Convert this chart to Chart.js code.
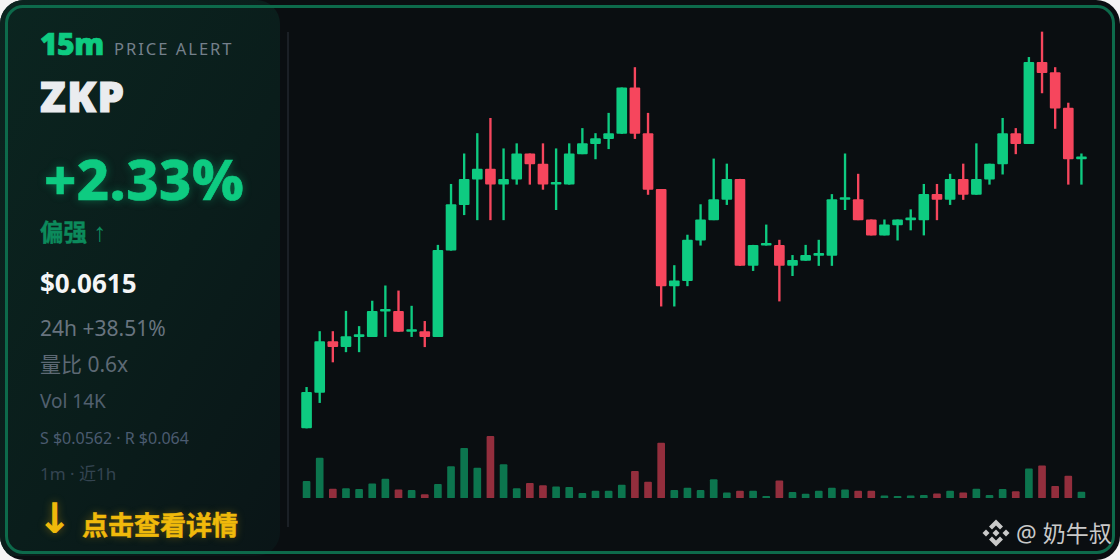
<!DOCTYPE html>
<html>
<head>
<meta charset="utf-8">
<script src="https://cdn.jsdelivr.net/npm/chart.js@4"></script>
<style>
	html, body { margin: 0; padding: 0; background: #f4f4f4; }
	#card { position: relative; width: 1120px; height: 560px; overflow: hidden; background: #0a0e11; border-radius: 24px; font-family: "Noto Sans", "Noto Sans CJK SC", sans-serif; }
	#panel { position: absolute; left: 0; top: 0; width: 280px; height: 556px; border-radius: 0 24px 24px 0; background: linear-gradient(120deg, #0b2520 0%, #0a1d1b 55%, #0a1517 100%); }
	#frame { position: absolute; left: 5px; top: 5px; width: 1104px; height: 543px; border: 3px solid #0d6a4b; border-radius: 18px; }
	#divider { position: absolute; left: 287px; top: 32px; width: 2px; height: 495px; background: #1b2026; }
	#chartbox { position: absolute; left: 300px; top: 20px; width: 788px; height: 478px; }
	.t { position: absolute; left: 40px; line-height: 1; white-space: nowrap; }
	#tf { top: 29px; font-size: 30px; font-weight: 900; color: #0ecb81; letter-spacing: -0.5px; -webkit-text-stroke: 0.7px #0ecb81; }
	#tag { top: 41px; left: 114px; font-size: 16.5px; color: #75808b; letter-spacing: 2px; }
	#sym { top: 75px; font-size: 42px; font-weight: 900; color: #eaecef; letter-spacing: 1.5px; -webkit-text-stroke: 1.2px #eaecef; }
	#pct { top: 150px; left: 44px; font-size: 56px; font-weight: 800; color: #0ecb81; letter-spacing: 0.5px; -webkit-text-stroke: 0.6px #0ecb81; text-shadow: 0 0 10px rgba(14,203,129,.4); }
	#bias { top: 219px; font-size: 23.5px; font-weight: 700; color: #0c8a5c; -webkit-text-stroke: 0.4px #0c8a5c; }
	#bias span { font-family: "Liberation Sans"; font-size: 26px; -webkit-text-stroke: 0; }
	#price { top: 270px; font-size: 26px; font-weight: 700; color: #f4f5f6; }
	#chg { top: 318px; font-size: 21px; color: #68747f; }
	#ratio { top: 354px; font-size: 21px; color: #5d6974; }
	#vol { top: 392px; font-size: 19px; color: #52606f; }
	#levels { top: 430px; font-size: 16px; color: #4b5b70; }
	#range { top: 465px; font-size: 17px; color: #344451; }
	#cta { top: 512px; left: 82px; font-size: 26px; font-weight: 700; color: #f0b90b; -webkit-text-stroke: 0.5px #f0b90b; text-shadow: 0 0 8px rgba(240,185,11,.35); }
	#arrow { top: 498px; left: 37px; font-family: "DejaVu Sans"; font-size: 42px; font-weight: 700; color: #f0b90b; text-shadow: 0 0 8px rgba(240,185,11,.35); }
	#mark { position: absolute; left: 982px; top: 519px; display: flex; align-items: center; font-size: 23px; color: #c9c9c9; line-height: 28px; white-space: nowrap; }
	#mark svg { margin-right: 6px; }
</style>
</head>
<body>
<div id="card">
	<div id="panel"></div>
	<div id="frame"></div>
	<div id="divider"></div>
	<div class="t" id="tf">15m</div>
	<div class="t" id="tag">PRICE ALERT</div>
	<div class="t" id="sym">ZKP</div>
	<div class="t" id="pct">+2.33%</div>
	<div class="t" id="bias">偏强 <span>↑</span></div>
	<div class="t" id="price">$0.0615</div>
	<div class="t" id="chg">24h +38.51%</div>
	<div class="t" id="ratio">量比 0.6x</div>
	<div class="t" id="vol">Vol 14K</div>
	<div class="t" id="levels">S $0.0562 · R $0.064</div>
	<div class="t" id="range">1m · 近1h</div>
	<div class="t" id="arrow">↓</div>
	<div class="t" id="cta">点击查看详情</div>
	<div id="chartbox"><canvas id="kline"></canvas></div>
	<div id="mark">
		<svg width="28" height="28" viewBox="0 0 28 28" fill="#c9c9c9">
			<path d="M14 0.5l7 7-3 3-4-4-4 4-3-3z"/>
			<path d="M14 27.5l7-7-3-3-4 4-4-4-3 3z"/>
			<path d="M4 10.5L7.5 14 4 17.5 0.5 14z"/>
			<path d="M24 10.5L27.5 14 24 17.5 20.5 14z"/>
			<path d="M14 10.5L17.5 14 14 17.5 10.5 14z"/>
		</svg>
		<span>@ 奶牛叔</span>
	</div>
</div>
<script>
const opens = [0.0562,0.0569,0.0579,0.0578,0.0580,0.0580,0.0585,0.0585,0.0581,0.0581,
	0.0580,0.0597,0.0606,0.0611,0.0613,0.0610,0.0611,0.0616,0.0614,0.0610,
	0.0610,0.0616,0.0618,0.0619,0.0620,0.0629,0.0620,0.0609,0.0590,0.0591,
	0.0599,0.0603,0.0607,0.0611,0.0594,0.0598,0.0598,0.0594,0.0595,0.0596,
	0.0596,0.0607,0.0607,0.0603,0.0600,0.0602,0.0603,0.0603,0.0608,0.0607,
	0.0611,0.0608,0.0611,0.0614,0.0620,0.0618,0.0634,0.0632,0.0625,0.0615];
const highs = [0.0570,0.0581,0.0581,0.0585,0.0582,0.0587,0.0590,0.0589,0.0586,0.0583,
	0.0598,0.0610,0.0616,0.0620,0.0623,0.0617,0.0618,0.0616,0.0618,0.0617,
	0.0618,0.0621,0.0620,0.0624,0.0629,0.0633,0.0624,0.0609,0.0594,0.0600,
	0.0606,0.0615,0.0614,0.0611,0.0598,0.0602,0.0599,0.0596,0.0598,0.0599,
	0.0608,0.0616,0.0612,0.0603,0.0603,0.0603,0.0605,0.0610,0.0610,0.0612,
	0.0614,0.0618,0.0614,0.0623,0.0621,0.0635,0.0640,0.0633,0.0626,0.0616];
const lows = [0.0562,0.0567,0.0575,0.0577,0.0577,0.0580,0.0580,0.0581,0.0580,0.0578,
	0.0580,0.0597,0.0604,0.0603,0.0603,0.0603,0.0610,0.0610,0.0609,0.0605,
	0.0610,0.0616,0.0615,0.0617,0.0620,0.0619,0.0608,0.0586,0.0586,0.0590,
	0.0598,0.0603,0.0606,0.0594,0.0593,0.0598,0.0587,0.0592,0.0595,0.0594,
	0.0594,0.0605,0.0603,0.0600,0.0600,0.0599,0.0601,0.0600,0.0603,0.0606,
	0.0607,0.0608,0.0610,0.0612,0.0616,0.0618,0.0628,0.0621,0.0610,0.0610];
const closes = [0.0569,0.0579,0.0578,0.0580,0.0580,0.0585,0.0585,0.0581,0.0581,0.0580,
	0.0597,0.0606,0.0611,0.0613,0.0610,0.0611,0.0616,0.0614,0.0610,0.0610,
	0.0616,0.0618,0.0619,0.0620,0.0629,0.0620,0.0609,0.0590,0.0591,0.0599,
	0.0603,0.0607,0.0611,0.0594,0.0598,0.0598,0.0594,0.0595,0.0596,0.0596,
	0.0607,0.0607,0.0603,0.0600,0.0602,0.0603,0.0603,0.0608,0.0607,0.0611,
	0.0608,0.0611,0.0614,0.0620,0.0618,0.0634,0.0632,0.0625,0.0615,0.0615];
// volume in K, last bar is the 14K on the panel
const volumes = [39,93,21,22,20,33,44,19,18,8,
	32,73,116,70,144,78,22,34,29,26,
	25,11,16,16,30,62,37,128,18,23,
	18,43,12,16,16,4,40,13,9,16,
	23,19,16,16,5,4,5,6,10,16,
	12,21,6,20,15,68,75,27,51,14];
const labels = opens.map((o, i) => i + 1);

const UP = '#0ECB81';
const DOWN = '#F6465D';
const UP_VOL = 'rgba(14,203,129,0.55)';
const DOWN_VOL = 'rgba(246,70,93,0.58)';

const isUp = (i) => closes[i] >= opens[i];
const candleColors = labels.map((l, i) => isUp(i) ? UP : DOWN);
const volColors = labels.map((l, i) => isUp(i) ? UP_VOL : DOWN_VOL);

const config = {
	type: 'bar',
	data: {
		labels: labels,
		datasets: [
			{
				// candle bodies
				data: opens.map((o, i) => [o, closes[i]]),
				backgroundColor: candleColors,
				barThickness: 10,
				minBarLength: 2,
				borderRadius: 1,
				borderSkipped: false,
				grouped: false,
				yAxisID: 'y',
				order: 1,
			},
			{
				// wicks
				data: lows.map((l, i) => [l, highs[i]]),
				backgroundColor: candleColors,
				barThickness: 1.7,
				grouped: false,
				yAxisID: 'y',
				order: 2,
			},
			{
				data: volumes,
				backgroundColor: volColors,
				barThickness: 7,
				borderRadius: 1,
				borderSkipped: false,
				grouped: false,
				yAxisID: 'yVol',
				order: 3,
			},
		]
	},
	options: {
		responsive: true,
		maintainAspectRatio: false,
		animation: false,
		events: [],
		plugins: {
			legend: { display: false },
			title: { display: false },
			tooltip: { enabled: false },
		},
		scales: {
			x: {
				display: false,
				grid: { display: false },
			},
			// price and volume share the area, volume stays in the bottom strip
			y: {
				display: false,
				min: 0.054821,
				max: 0.064236,
				grid: { display: false },
			},
			yVol: {
				display: false,
				min: 0,
				max: 1115,
				grid: { display: false },
			},
		}
	},
};

const kline = new Chart(document.getElementById('kline'), config);
</script>
</body>
</html>
